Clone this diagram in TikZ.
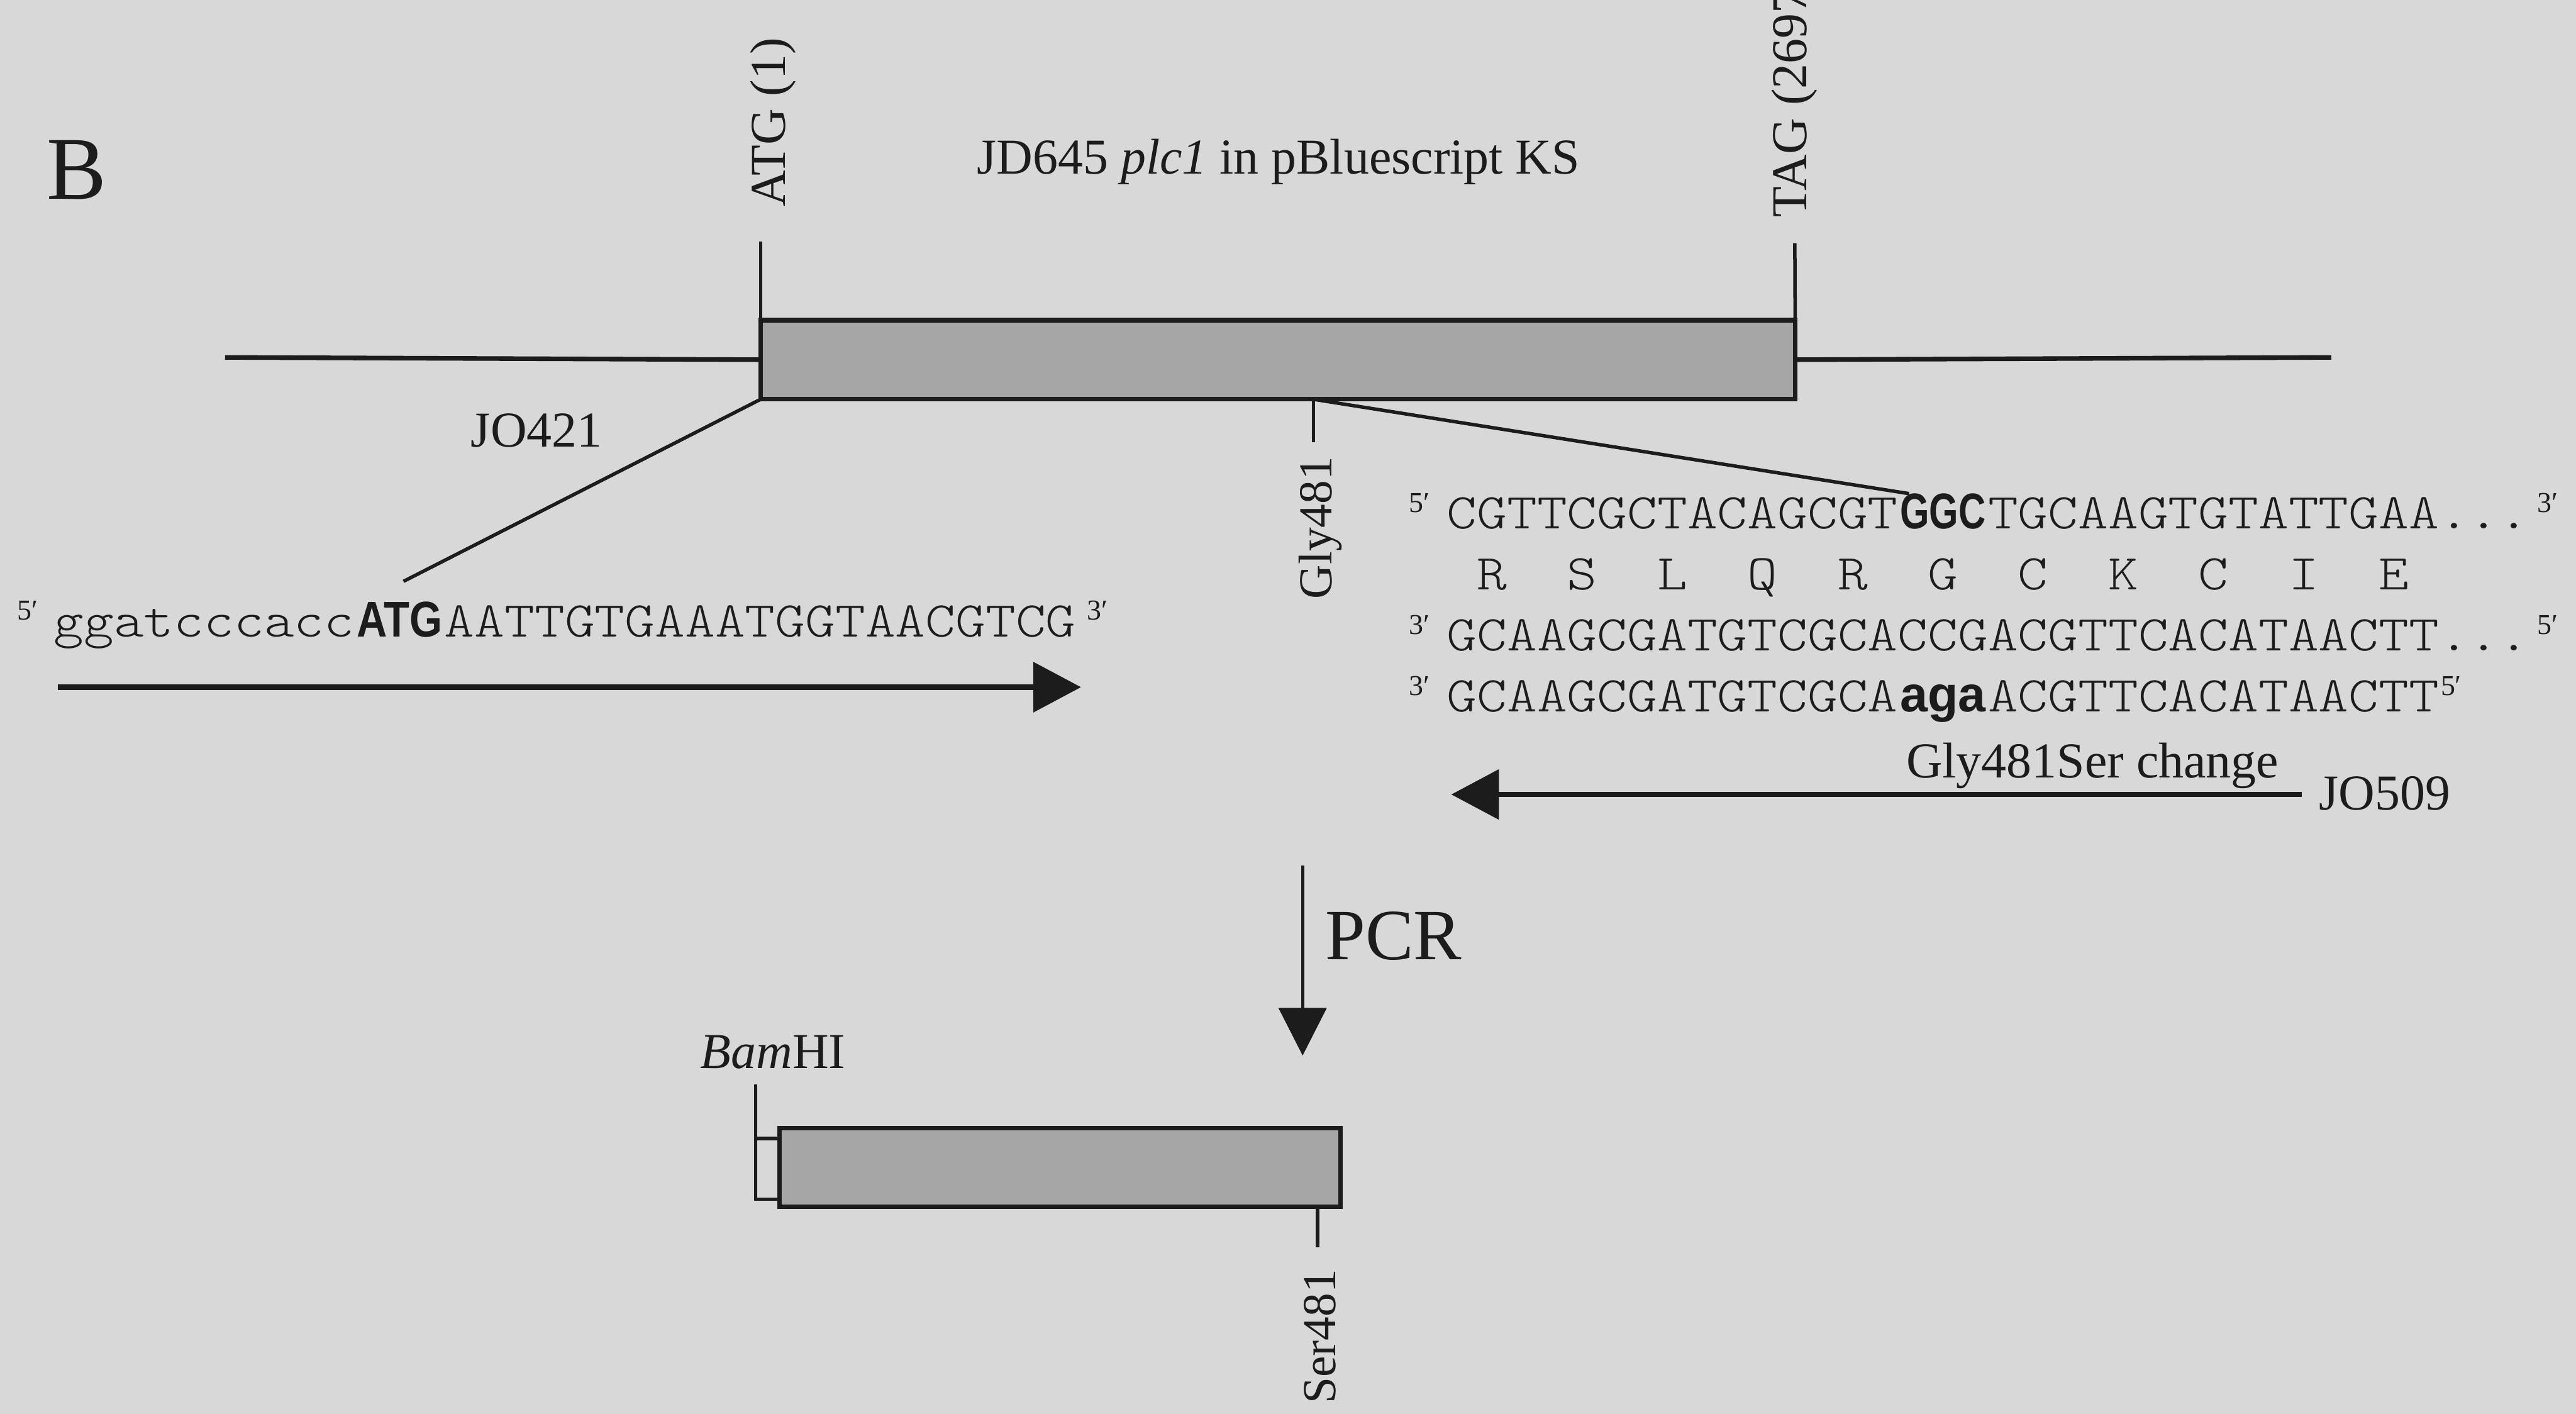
\documentclass[tikz,border=0pt]{standalone}
\usepackage{fontspec}
\setmainfont{Liberation Serif}
\setsansfont{Liberation Sans}
\newfontfamily\seqfont{lmmonolt10-regular.otf}[FakeStretch=1.14]
\usepackage{graphicx}
\usetikzlibrary{arrows.meta}
\definecolor{bg}{RGB}{216,216,216}
\definecolor{ink}{RGB}{28,28,28}
\definecolor{boxfill}{RGB}{166,166,166}
\newlength\cw
\setlength\cw{5.2071pt}
\newcommand\sqf{\seqfont\fontsize{8.7pt}{10pt}\selectfont}
\newcommand\bsq[1]{\makebox[3\cw][c]{\resizebox{2.85\cw}{\height}{\sffamily\bfseries #1}}}
\newcommand\aac[1]{\makebox[3\cw][c]{#1}}
\newcommand\pr[1]{#1\symbol{"2032}}
\tikzset{
  txt/.style={inner sep=0pt, text=ink, font=\fontsize{8.7pt}{10pt}\selectfont},
  seqtxt/.style={inner sep=0pt, text=ink, font=\sqf},
  suptxt/.style={inner sep=0pt, text=ink, font=\fontsize{5pt}{6pt}\selectfont},
  vlab/.style={txt, rotate=90},
  slab/.style={inner sep=0pt, text=ink, rotate=90, font=\fontsize{8.2pt}{9pt}\selectfont},
  tick/.style={draw=ink, line width=0.6pt},
  hline/.style={draw=ink, line width=0.8pt},
  genebox/.style={draw=ink, line width=0.8pt, fill=boxfill, inner sep=0pt, outer sep=0pt},
  shaft/.style={draw=ink, line width=0.9pt, -{Triangle[length=2.9mm,width=3.0mm]}},
  pcrarrow/.style={draw=ink, line width=0.55pt, -{Triangle[length=2.9mm,width=2.9mm]}},
}
\begin{document}
\begin{tikzpicture}[x=0.1mm,y=-0.1mm]
\useasboundingbox (0,0) rectangle (1568,860.4);
\fill[bg] (0,0) rectangle (1568,860.4);
\clip (0,0) rectangle (1568,860.4);

% panel letter and title
\node[inner sep=0pt, text=ink, font=\fontsize{15.5pt}{17pt}\selectfont, anchor=base west] (lblB) at (28,121) {B};
\node[txt, anchor=base west] (title) at (594,106) {JD645 \textit{plc1} in pBluescript KS};

% top map
\coordinate (lineL) at (137,217.5);
\coordinate (lineR) at (1419,217.5);
\node[genebox, anchor=north west, minimum width=62.97mm, minimum height=4.82mm] (plc) at (463,194.8) {};
\draw[hline] (lineL) -- (plc.west);
\draw[hline] (plc.east) -- (lineR);
\coordinate (atgT) at (463,147);
\coordinate (tagT) at (1092.5,148);
\draw[tick] (atgT) -- (plc.north west);
\draw[tick] (tagT) -- (plc.north east);
\node[vlab, anchor=base west] (atg) at (478,126.4) {ATG (1)};
\node[vlab, anchor=base west] (tag) at (1099.5,133) {TAG (2697)};

% JO421
\coordinate (j421) at (245.6,353.8);
\draw[tick] (plc.south west) -- (j421);
\node[txt, anchor=base west] (jo421) at (286,272) {JO421};

% Gly481
\coordinate (glyE) at (799.5,269);
\coordinate (glyB) at (plc.south -| glyE);
\coordinate (ggc) at (1162,300.4);
\draw[tick] (glyB) -- (glyE);
\draw[tick] (glyB) -- (ggc);
\node[slab, anchor=base] (gly) at (810.6,321.2) {Gly481};

% left primer sequence
\node[suptxt, anchor=base west] (s1a) at (10,377.4) {\pr{5}};
\node[seqtxt, anchor=base west] (s1) at (32,387.4) {ggatcccacc\bsq{ATG}AATTGTGAAATGGTAACGTCG};
\node[suptxt, anchor=base west] (s1b) at (661,377.4) {\pr{3}};
\coordinate (a1s) at (35.4,418.2);
\coordinate (a1e) at (658,418.2);
\draw[shaft] (a1s) -- (a1e);

% right sequences
\node[suptxt, anchor=base west] (s2a) at (857,311.7) {\pr{5}};
\node[seqtxt, anchor=base west] (s2) at (880,321.7) {CGTTCGCTACAGCGT\bsq{GGC}TGCAAGTGTATTGAA...};
\node[suptxt, anchor=base west] (s2b) at (1543.6,311.7) {\pr{3}};

\node[seqtxt, anchor=base west] (aa) at (880,358.8) {\aac{R}\aac{S}\aac{L}\aac{Q}\aac{R}\aac{G}\aac{C}\aac{K}\aac{C}\aac{I}\aac{E}};

\node[suptxt, anchor=base west] (s3a) at (857,386) {\pr{3}};
\node[seqtxt, anchor=base west] (s3) at (880,396) {GCAAGCGATGTCGCACCGACGTTCACATAACTT...};
\node[suptxt, anchor=base west] (s3b) at (1543.6,386) {\pr{5}};

\node[suptxt, anchor=base west] (s4a) at (857,423) {\pr{3}};
\node[seqtxt, anchor=base west] (s4) at (880,433) {GCAAGCGATGTCGCA\bsq{aga}ACGTTCACATAACTT};
\node[suptxt, anchor=base west] (s4b) at (1485,423) {\pr{5}};

% JO509 primer
\node[txt, anchor=base west] (change) at (1159.6,473.3) {Gly481Ser change};
\node[txt, anchor=base west] (jo509) at (1411,493) {JO509};
\coordinate (a2s) at (1401,483.5);
\coordinate (a2e) at (883.4,483.5);
\draw[shaft] (a2s) -- (a2e);

% PCR
\coordinate (pcrS) at (792.9,526.8);
\coordinate (pcrE) at (792.9,642.4);
\draw[pcrarrow] (pcrS) -- (pcrE);
\node[inner sep=0pt, text=ink, font=\fontsize{12.5pt}{14pt}\selectfont, anchor=base west] (pcr) at (806,584) {PCR};

% product
\node[genebox, anchor=north west, minimum width=34.14mm, minimum height=4.78mm] (prod) at (474.6,686.5) {};
\coordinate (bamT) at (460,660);
\coordinate (sbT) at (460,692.8);
\coordinate (sbB) at (460,729.9);
\draw[tick] (bamT) -- (sbT) -- (sbB) -- (sbB -| prod.west);
\draw[tick] (sbT) -- (sbT -| prod.west);
\node[txt, anchor=base west] (bam) at (425.6,650) {\textit{Bam}HI};
\coordinate (serE) at (802,759);
\draw[tick] (prod.south -| serE) -- (serE);
\node[slab, anchor=base] (ser) at (813,813.4) {Ser481};
\end{tikzpicture}
\end{document}
